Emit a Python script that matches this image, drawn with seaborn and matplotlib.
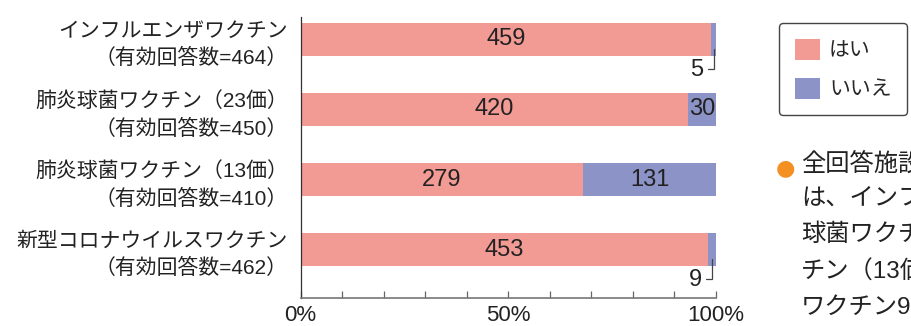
import matplotlib.pyplot as plt
import seaborn as sns
import numpy as np
from matplotlib.patches import Patch
from matplotlib.ticker import MultipleLocator

sns.set_theme(style="white")
plt.rcParams["font.family"] = ["Liberation Sans", "Noto Sans CJK JP"]

vaccines = [
    "インフルエンザワクチン",
    "肺炎球菌ワクチン（23価）",
    "肺炎球菌ワクチン（13価）",
    "新型コロナウイルスワクチン",
]
totals = np.array([464, 450, 410, 462])
yes = np.array([459, 420, 279, 453])
no = np.array([5, 30, 131, 9])
series_names = ["はい", "いいえ"]
pink = "#F29A94"
blue = "#8C93C6"

labels = [f"{v}\n（有効回答数={t}）" for v, t in zip(vaccines, totals)]
yes_pct = yes / totals * 100
full_pct = np.full(len(totals), 100.0)

fig = plt.figure(figsize=(9.12, 3.26), dpi=100)
ax = fig.add_axes([0.3295, 0.086, 0.4555, 0.862])

bw = 0.47
sns.barplot(x=full_pct, y=labels, color=blue, saturation=1, width=bw,
            linewidth=0, ax=ax, orient="h")
sns.barplot(x=yes_pct, y=labels, color=pink, saturation=1, width=bw,
            linewidth=0, ax=ax, orient="h")

ax.set_xlim(0, 100)
ax.set_ylim(3.69, -0.32)

# value labels
for i in range(len(totals)):
    ax.text(yes_pct[i] / 2, i, str(yes[i]), ha="center", va="center",
            fontsize=17, color="#222222")
    no_c = (yes[i] + no[i] / 2) / totals[i] * 100
    if no[i] >= 20:
        ax.text(no_c, i, str(no[i]), ha="center", va="center",
                fontsize=17, color="#222222")
    else:
        yb = i + bw / 2 - 0.1
        yl = i + 0.42
        ax.plot([no_c, no_c, no_c - 1.4], [yb, yl, yl], color="#444444",
                lw=0.9, solid_joinstyle="miter")
        ax.text(no_c - 2.4, yl + 0.02, str(no[i]), ha="right", va="center",
                fontsize=17, color="#222222")

ax.xaxis.set_major_locator(MultipleLocator(50))
ax.xaxis.set_minor_locator(MultipleLocator(10))
ax.xaxis.set_major_formatter(lambda v, p: f"{v:.0f}%")
ax.tick_params(axis="x", which="both", direction="in", length=5, width=0.9,
               color="#666666", bottom=True, labelsize=16, pad=5,
               labelcolor="#222222")
ax.tick_params(axis="y", length=0, labelsize=15, pad=9, labelcolor="#222222")
for lab in ax.get_yticklabels():
    lab.set_linespacing(1.45)
    lab.set_ha("right")

for s in ["top", "right"]:
    ax.spines[s].set_visible(False)
ax.spines["left"].set_color("#333333")
ax.spines["left"].set_linewidth(0.9)
ax.spines["bottom"].set_color("#777777")
ax.spines["bottom"].set_linewidth(1.2)
ax.set_xlabel("")
ax.set_ylabel("")

handles = [Patch(facecolor=pink, edgecolor="none"),
           Patch(facecolor=blue, edgecolor="none")]
leg = fig.legend(handles, series_names, loc="upper left",
                 bbox_to_anchor=(779 / 912, 1 - 23 / 326), fontsize=15,
                 handlelength=1.2, handleheight=1.2, handletextpad=0.45,
                 labelspacing=0.85, borderpad=0.75, borderaxespad=0,
                 frameon=True, fancybox=True, edgecolor="#444444",
                 framealpha=1)
leg.get_frame().set_linewidth(1.0)

# side note (cropped in the original)
fig.text(785 / 912, 1 - 168 / 326, "●", color="#F39021", fontsize=16,
         ha="center", va="center", family=["DejaVu Sans"])
note = ["全回答施設では、", "は、インフルエンザ", "球菌ワクチン（23価）",
        "チン（13価）は", "ワクチン9割"]
fig.text(801 / 912, 1 - 152 / 326, "\n".join(note), fontsize=17.5,
         ha="left", va="top", linespacing=1.75, color="#222222")

fig.savefig("out.png", dpi=100)
